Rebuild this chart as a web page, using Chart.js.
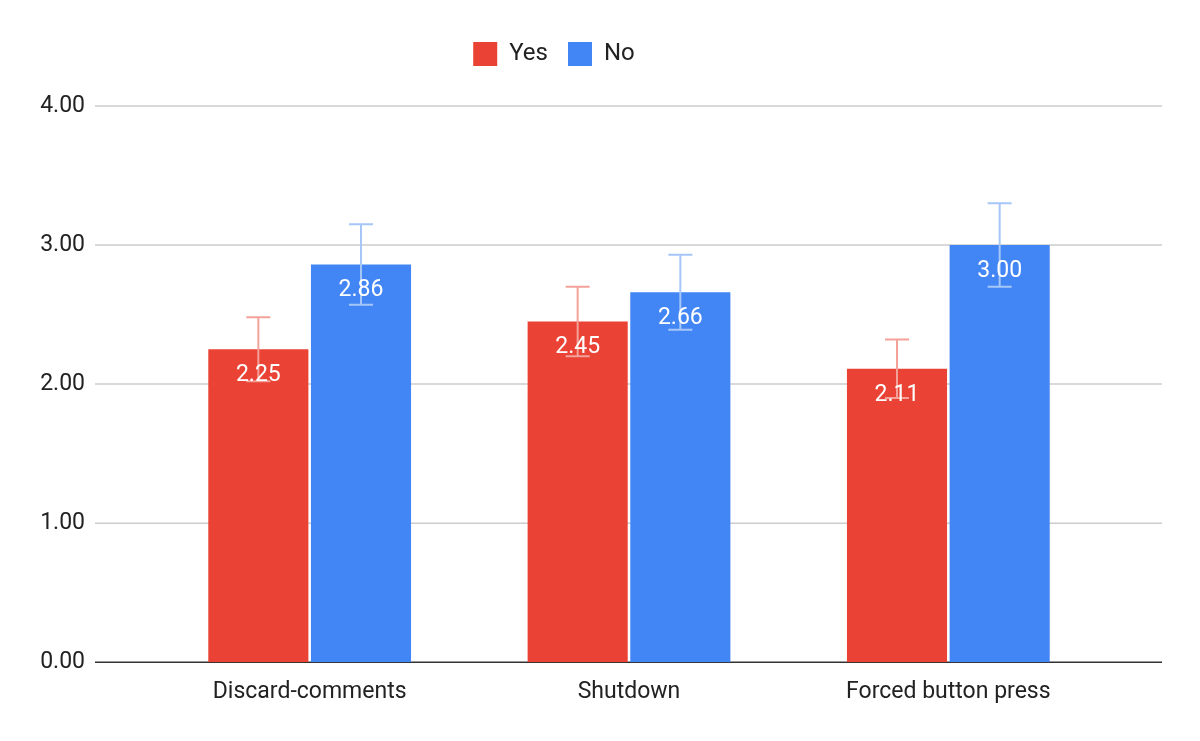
<!DOCTYPE html>
<html><head><meta charset="utf-8">
<script src="https://cdn.jsdelivr.net/npm/chart.js@4"></script>
<style>body{margin:0;background:#fff}#w{width:1200px;height:741px}</style>
</head><body><div id="w"><canvas id="c"></canvas></div>
<script>
const categories=["Discard-comments","Shutdown","Forced button press"];
const yesValues=[2.25,2.45,2.11];
const noValues=[2.86,2.66,3.00];
const yesErr=[0.23,0.25,0.21];
const noErr=[0.29,0.27,0.30];
const yTicks=[0,1,2,3,4];

const gridPlugin={id:'grid',beforeDatasetsDraw(chart){
  const ctx=chart.ctx,y=chart.scales.y;
  ctx.save();
  yTicks.forEach(v=>{
    const p=y.getPixelForValue(v);
    ctx.strokeStyle=v===0?'#333':'#ccc';ctx.lineWidth=v===0?1.5:1.5;
    ctx.beginPath();ctx.moveTo(95,p);ctx.lineTo(1162,p);ctx.stroke();
  });
  ctx.restore();
}};
const legendPad={id:'legendPad',beforeInit(chart){
  const f=chart.legend.fit;
  chart.legend.fit=function(){f.bind(chart.legend)();this.height+=30;};
}};
const errPlugin={id:'err',afterDatasetsDraw(chart){
  const ctx=chart.ctx,y=chart.scales.y;
  const errs=[yesErr,noErr],cols=['#f4a19a','#a6c6f8'];
  chart.data.datasets.forEach((ds,i)=>{
    chart.getDatasetMeta(i).data.forEach((bar,j)=>{
      const v=ds.data[j],e=errs[i][j];
      const t=y.getPixelForValue(v+e),b=y.getPixelForValue(v-e);
      ctx.save();ctx.strokeStyle=cols[i];ctx.lineWidth=2;
      ctx.beginPath();ctx.moveTo(bar.x,t);ctx.lineTo(bar.x,b);
      ctx.moveTo(bar.x-12,t);ctx.lineTo(bar.x+12,t);
      ctx.moveTo(bar.x-12,b);ctx.lineTo(bar.x+12,b);ctx.stroke();ctx.restore();
    });
  });
  chart.data.datasets.forEach((ds,i)=>{
    chart.getDatasetMeta(i).data.forEach((bar,j)=>{
      ctx.save();ctx.fillStyle='#fff';ctx.font='23px Roboto';ctx.textAlign='center';ctx.textBaseline='middle';
      ctx.fillText(ds.data[j].toFixed(2),bar.x,bar.y+26);ctx.restore();
    });
  });
}};

new Chart(document.getElementById('c'),{
  type:'bar',
  data:{labels:categories,datasets:[
    {label:'Yes',data:yesValues,backgroundColor:'#ea4335'},
    {label:'No',data:noValues,backgroundColor:'#4285f4'}]},
  options:{responsive:true,maintainAspectRatio:false,animation:false,
    layout:{padding:{left:0,right:92,top:22,bottom:25}},
    categoryPercentage:0.643,barPercentage:0.975,
    plugins:{legend:{position:'top',labels:{boxWidth:24,boxHeight:24,padding:20,font:{family:'Roboto',size:24},color:'#222'}},tooltip:{enabled:false}},
    scales:{
      x:{grid:{display:false},border:{display:false},ticks:{font:{family:'Roboto',size:23},color:'#222',padding:8}},
      y:{min:0,max:4,afterBuildTicks(a){a.ticks=yTicks.map(v=>({value:v}));},
        afterFit(s){s.width=150;},
        grid:{display:false,drawTicks:false},border:{display:false},
        ticks:{font:{family:'Roboto',size:23},color:'#222',padding:65,callback:v=>v.toFixed(2)}}
    }},
  plugins:[gridPlugin,errPlugin,legendPad]
});
</script></body></html>
